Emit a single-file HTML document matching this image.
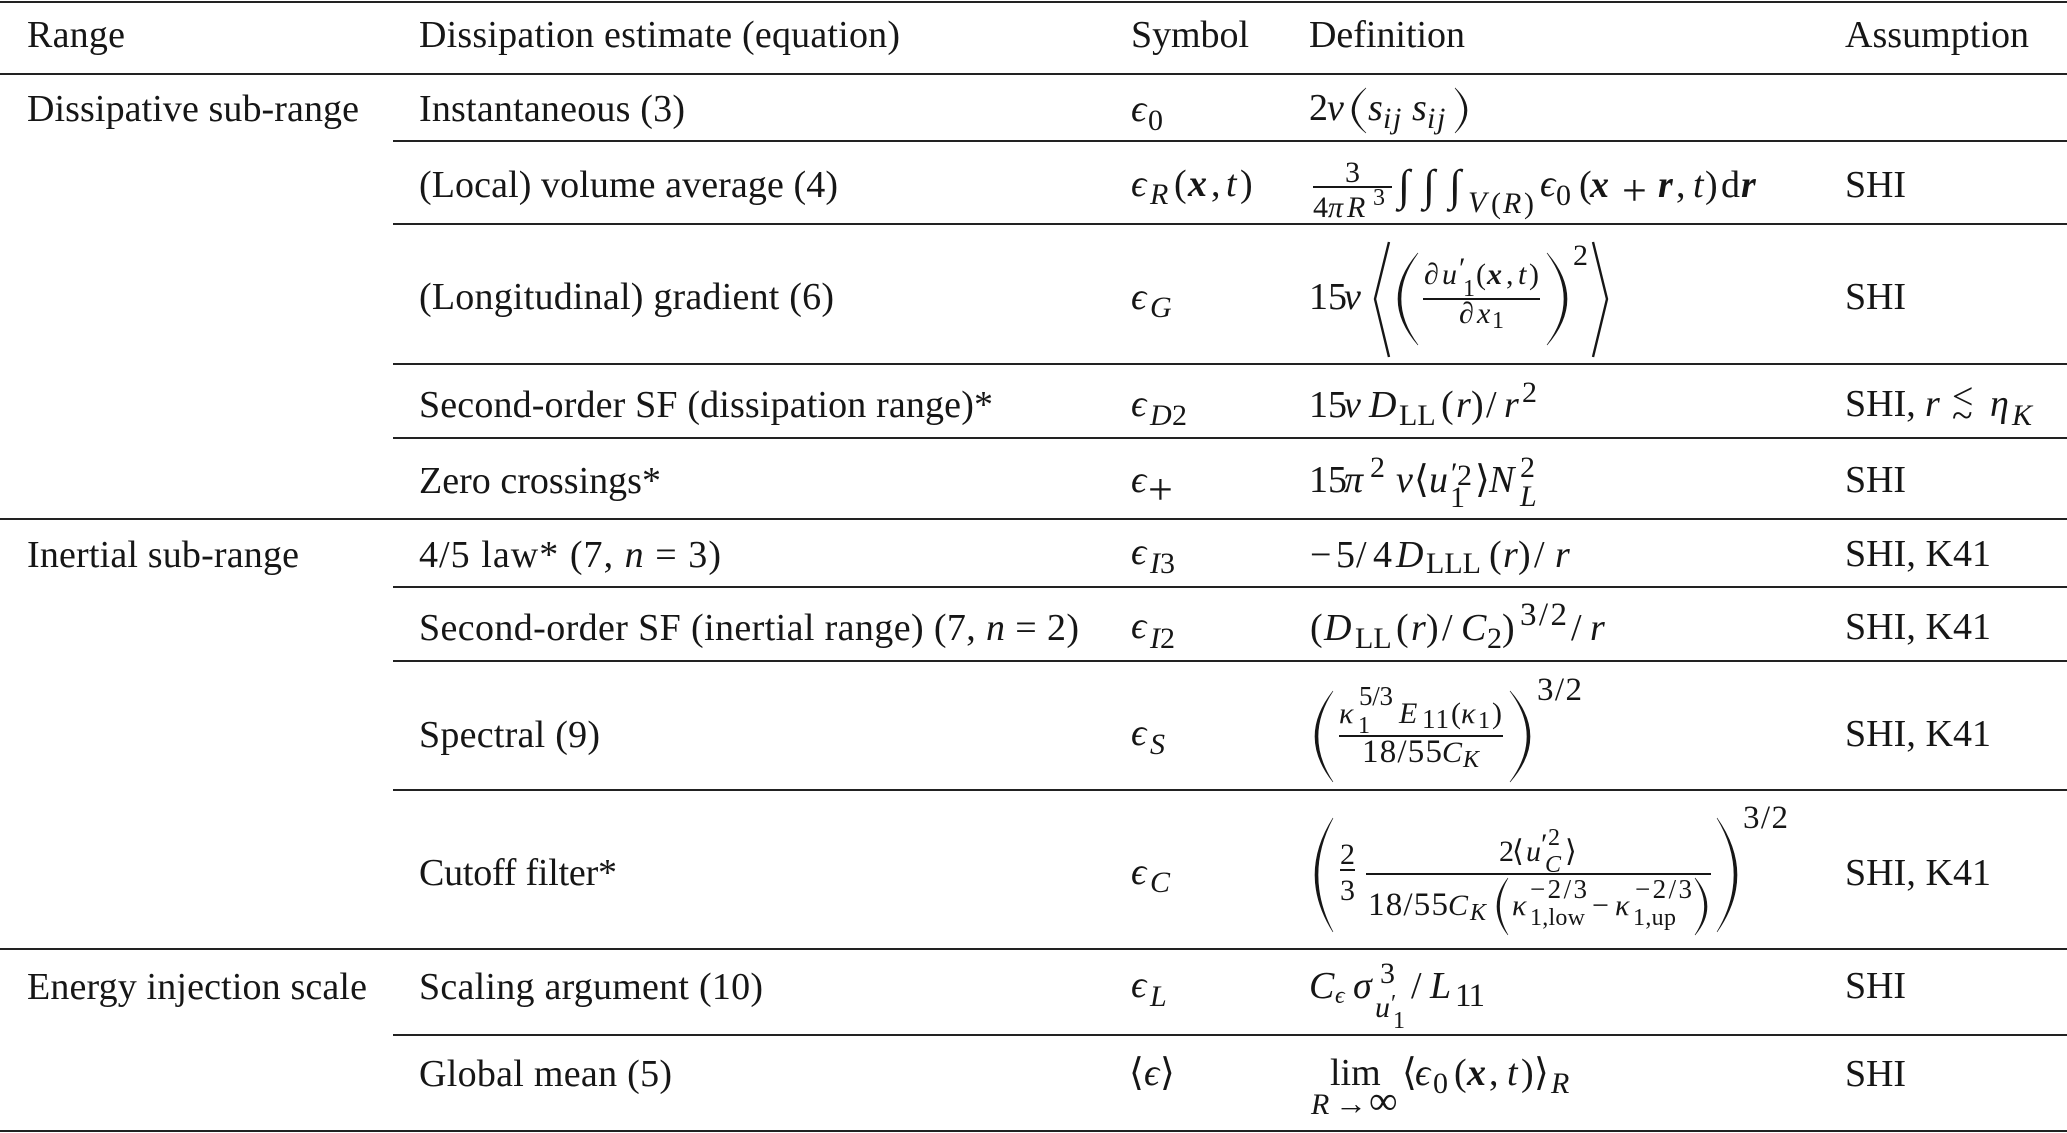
<!DOCTYPE html>
<html><head><meta charset="utf-8"><title>Dissipation estimates</title>
<style>
html,body{margin:0;padding:0;background:#fff;width:2067px;height:1133px;overflow:hidden}
svg{display:block}
text{font-family:"Liberation Serif","DejaVu Serif",serif;fill:#161616;white-space:pre}
.a{font-size:38px}
.b{font-size:38px;font-style:italic}
.g{font-size:38px;font-style:italic;font-weight:bold}
.c{font-size:30px}
.c2{font-size:33px}
.d{font-size:30px;font-style:italic}
.h{font-size:30px;font-style:italic;font-weight:bold}
.e{font-size:24px}
.e2{font-size:27px}
.f{font-size:24px;font-style:italic}
.i{font-size:44px}
line{stroke:#222;stroke-width:2}
.p{fill:#161616;stroke:#161616;stroke-width:.6}
.n{fill:none;stroke:#161616;stroke-width:2.4}
</style></head><body>
<svg width="2067" height="1133" viewBox="0 0 2067 1133" xmlns="http://www.w3.org/2000/svg">
<!-- rules -->
<line x1="0" x2="2067" y1="2" y2="2"/>
<line x1="0" x2="2067" y1="74" y2="74"/>
<line x1="393" x2="2067" y1="141" y2="141"/>
<line x1="393" x2="2067" y1="224" y2="224"/>
<line x1="393" x2="2067" y1="364" y2="364"/>
<line x1="393" x2="2067" y1="438" y2="438"/>
<line x1="0" x2="2067" y1="519" y2="519"/>
<line x1="393" x2="2067" y1="587" y2="587"/>
<line x1="393" x2="2067" y1="661" y2="661"/>
<line x1="393" x2="2067" y1="790" y2="790"/>
<line x1="0" x2="2067" y1="949" y2="949"/>
<line x1="393" x2="2067" y1="1035" y2="1035"/>
<line x1="0" x2="2067" y1="1131" y2="1131"/>

<!-- header -->
<text class="a" x="27" y="47" textLength="98">Range</text>
<text class="a" x="419" y="47" textLength="481">Dissipation estimate (equation)</text>
<text class="a" x="1131" y="47" textLength="118">Symbol</text>
<text class="a" x="1309" y="47" textLength="156">Definition</text>
<text class="a" x="1845" y="47" textLength="184">Assumption</text>

<!-- column 1 -->
<text class="a" x="27" y="121" textLength="332">Dissipative sub-range</text>
<text class="a" x="27" y="567" textLength="272">Inertial sub-range</text>
<text class="a" x="27" y="999" textLength="340">Energy injection scale</text>

<!-- column 2 -->
<text class="a" x="419" y="121" textLength="266">Instantaneous (3)</text>
<text class="a" x="419" y="197" textLength="419">(Local) volume average (4)</text>
<text class="a" x="419" y="309" textLength="415">(Longitudinal) gradient (6)</text>
<text class="a" x="419" y="417" textLength="574">Second-order SF (dissipation range)*</text>
<text class="a" x="419" y="493" textLength="242">Zero crossings*</text>
<text class="a" x="419" y="567" textLength="302">4/5 law* (7, <tspan font-style="italic">n</tspan> = 3)</text>
<text class="a" x="419" y="640" textLength="660">Second-order SF (inertial range) (7, <tspan font-style="italic">n</tspan> = 2)</text>
<text class="a" x="419" y="747" textLength="181">Spectral (9)</text>
<text class="a" x="419" y="885" textLength="198">Cutoff filter*</text>
<text class="a" x="419" y="999" textLength="344">Scaling argument (10)</text>
<text class="a" x="419" y="1086" textLength="253">Global mean (5)</text>

<!-- column 5 -->
<text class="a" x="1845" y="197" textLength="61">SHI</text>
<text class="a" x="1845" y="309" textLength="61">SHI</text>
<text class="a" x="1845" y="416">SHI,</text>
<text class="b" x="1925" y="416">r</text>
<text class="a" x="1952" y="409">&lt;</text>
<text class="a" x="1952" y="428">~</text>
<text class="b" x="1990" y="416">η</text>
<text class="d" x="2012" y="425">K</text>
<text class="a" x="1845" y="492" textLength="61">SHI</text>
<text class="a" x="1845" y="566" textLength="146">SHI, K41</text>
<text class="a" x="1845" y="639" textLength="146">SHI, K41</text>
<text class="a" x="1845" y="746" textLength="146">SHI, K41</text>
<text class="a" x="1845" y="885" textLength="146">SHI, K41</text>
<text class="a" x="1845" y="998" textLength="61">SHI</text>
<text class="a" x="1845" y="1086" textLength="61">SHI</text>

<!-- column 3 -->
<text class="b" x="1131" y="121">ϵ</text><text class="c" x="1148" y="130">0</text>
<text class="b" x="1131" y="196">ϵ</text><text class="d" x="1150" y="204">R</text>
<text class="a" x="1174" y="196">(</text><text class="g" x="1188" y="196">x</text><text class="a" x="1211" y="196">,</text><text class="b" x="1226" y="196">t</text><text class="a" x="1240" y="196">)</text>
<text class="b" x="1131" y="309">ϵ</text><text class="d" x="1150" y="317">G</text>
<text class="b" x="1131" y="416">ϵ</text><text class="d" x="1150" y="425">D</text><text class="c" x="1172" y="425">2</text>
<text class="b" x="1131" y="492">ϵ</text><text class="i" x="1148" y="504">+</text>
<text class="b" x="1131" y="564">ϵ</text><text class="d" x="1150" y="573">I</text><text class="c" x="1160" y="573">3</text>
<text class="b" x="1131" y="638">ϵ</text><text class="d" x="1150" y="648">I</text><text class="c" x="1160" y="648">2</text>
<text class="b" x="1131" y="745">ϵ</text><text class="d" x="1150" y="754">S</text>
<text class="b" x="1131" y="884">ϵ</text><text class="d" x="1150" y="892">C</text>
<text class="b" x="1131" y="997">ϵ</text><text class="d" x="1150" y="1006">L</text>
<text class="a" x="1129" y="1085">⟨</text><text class="b" x="1144" y="1085">ϵ</text><text class="a" x="1160" y="1085">⟩</text>

<!-- column 4 : row 1 -->
<text class="a" x="1309" y="120">2</text><text class="b" x="1327" y="120">ν</text>
<path class="p" d="M1366 88Q1338 110.500 1366 133Q1343 110.500 1366 88Z"/>
<text class="b" x="1368" y="120">s</text><text class="d" x="1383" y="128">i</text><text class="d" x="1393" y="128">j</text>
<text class="b" x="1412" y="120">s</text><text class="d" x="1427" y="128">i</text><text class="d" x="1437" y="128">j</text>
<path class="p" d="M1455 88Q1479 110.500 1455 133Q1474 110.500 1455 88Z"/>

<!-- row 2 -->
<text class="c" x="1345" y="182">3</text>
<rect x="1313" y="186" width="79" height="2" fill="#161616"/>
<text class="c" x="1313" y="217">4</text><text class="d" x="1328" y="217">π</text><text class="d" x="1347" y="217">R</text><text class="e" x="1373" y="205">3</text>
<text class="i" x="1398" y="200" font-style="italic">∫</text><text class="i" x="1423" y="200" font-style="italic">∫</text><text class="i" x="1449" y="200" font-style="italic">∫</text>
<text class="d" x="1468" y="212">V</text><text class="c" x="1491" y="213">(</text><text class="d" x="1503" y="213">R</text><text class="c" x="1524" y="213">)</text>
<text class="b" x="1540" y="196">ϵ</text><text class="c" x="1556" y="205">0</text>
<text class="a" x="1579" y="197">(</text><text class="g" x="1590" y="197">x</text><text class="i" x="1622" y="205">+</text><text class="g" x="1658" y="197">r</text><text class="a" x="1676" y="197">,</text><text class="b" x="1693" y="197">t</text><text class="a" x="1705" y="197">)</text>
<text class="a" x="1721" y="197">d</text><text class="g" x="1741" y="197">r</text>

<!-- row 3 -->
<text class="a" x="1309" y="309">15</text><text class="b" x="1344" y="309">ν</text>
<polyline class="n" points="1389,242 1375,299 1389,357"/>
<path class="p" d="M1418 253Q1378 299 1418 345Q1384 299 1418 253Z"/>
<text class="c" x="1424" y="284">∂</text><text class="d" x="1442" y="284">u</text><text class="c" x="1459" y="278">′</text><text class="e" x="1463" y="296">1</text>
<text class="c" x="1476" y="284">(</text><text class="h" x="1487" y="284">x</text><text class="c" x="1506" y="284">,</text><text class="d" x="1518" y="284">t</text><text class="c" x="1529" y="284">)</text>
<rect x="1423" y="298" width="117" height="2" fill="#161616"/>
<text class="c" x="1459" y="323">∂</text><text class="d" x="1477" y="323">x</text><text class="e" x="1492" y="328">1</text>
<path class="p" d="M1547 253Q1587 299 1547 345Q1581 299 1547 253Z"/>
<text class="c" x="1573" y="265">2</text>
<polyline class="n" points="1593,242 1607,299 1593,357"/>

<!-- row 4 -->
<text class="a" x="1309" y="417">15</text><text class="b" x="1344" y="417">ν</text><text class="b" x="1369" y="417">D</text><text class="c" x="1399" y="425">LL</text>
<text class="a" x="1441" y="417">(</text><text class="b" x="1456" y="417">r</text><text class="a" x="1471" y="417">)</text><text class="a" x="1486" y="417">/</text><text class="b" x="1504" y="417">r</text><text class="c" x="1522" y="402">2</text>

<!-- row 5 -->
<text class="a" x="1309" y="492">15</text><text class="b" x="1344" y="492">π</text><text class="c" x="1370" y="477">2</text><text class="b" x="1396" y="492">ν</text>
<text class="a" x="1414" y="492">⟨</text><text class="b" x="1429" y="492">u</text><text class="c" x="1451" y="483">′</text><text class="c" x="1457" y="485">2</text><text class="c" x="1450" y="507">1</text><text class="a" x="1475" y="492">⟩</text>
<text class="b" x="1489" y="492">N</text><text class="c" x="1520" y="477">2</text><text class="d" x="1520" y="506">L</text>

<!-- row 6 -->
<text class="a" x="1310" y="567" textLength="24">−</text><text class="a" x="1336" y="567">5</text><text class="a" x="1356" y="567">/</text><text class="a" x="1373" y="567">4</text><text class="b" x="1396" y="567">D</text><text class="c" x="1426" y="573">LLL</text>
<text class="a" x="1489" y="567">(</text><text class="b" x="1503" y="567">r</text><text class="a" x="1518" y="567">)</text><text class="a" x="1534" y="567">/</text><text class="b" x="1555" y="567">r</text>

<!-- row 7 -->
<text class="a" x="1310" y="640">(</text><text class="b" x="1324" y="640">D</text><text class="c" x="1355" y="648">LL</text>
<text class="a" x="1396" y="640">(</text><text class="b" x="1411" y="640">r</text><text class="a" x="1426" y="640">)</text><text class="a" x="1442" y="640">/</text><text class="b" x="1461" y="640">C</text><text class="c" x="1487" y="648">2</text><text class="a" x="1502" y="640">)</text>
<text class="c2" x="1520" y="625" textLength="47">3/2</text><text class="a" x="1571" y="640">/</text><text class="b" x="1590" y="640">r</text>

<!-- row 8 -->
<path class="p" d="M1333 691Q1297 736.500 1333 782Q1303 736.500 1333 691Z"/>
<text class="d" x="1339" y="723">κ</text><text class="e2" x="1359" y="705" textLength="34">5/3</text><text class="e" x="1358" y="733">1</text>
<text class="d" x="1399" y="723">E</text><text class="e2" x="1422" y="728" textLength="27">11</text>
<text class="c" x="1451" y="723">(</text><text class="d" x="1461" y="723">κ</text><text class="e" x="1478" y="728">1</text><text class="c" x="1492" y="723">)</text>
<rect x="1339" y="735" width="164" height="2" fill="#161616"/>
<text class="c2" x="1362" y="762" textLength="80">18/55</text><text class="d" x="1442" y="762">C</text><text class="f" x="1463" y="767">K</text>
<path class="p" d="M1510 691Q1550 736.500 1510 782Q1544 736.500 1510 691Z"/>
<text class="c2" x="1537" y="700" textLength="45">3/2</text>

<!-- row 9 -->
<path class="p" d="M1333 818Q1297 875 1333 932Q1303 875 1333 818Z"/>
<text class="c" x="1340" y="864">2</text><rect x="1340" y="869" width="15" height="2" fill="#161616"/><text class="c" x="1340" y="900">3</text>
<text class="c" x="1499" y="861">2</text><text class="c" x="1512" y="861">⟨</text><text class="d" x="1526" y="861">u</text><text class="c" x="1541" y="854">′</text><text class="e" x="1548" y="845">2</text><text class="f" x="1545" y="872">C</text><text class="c" x="1565" y="861">⟩</text>
<rect x="1366" y="873" width="345" height="2" fill="#161616"/>
<text class="c2" x="1368" y="915" textLength="80">18/55</text><text class="d" x="1448" y="915">C</text><text class="f" x="1470" y="920">K</text>
<path class="p" d="M1508 878Q1486 906.500 1508 935Q1491 906.500 1508 878Z"/>
<text class="d" x="1512" y="915">κ</text><text class="e2" x="1530" y="898" textLength="57">−2/3</text><text class="e" x="1530" y="925" textLength="55">1,low</text>
<text class="c" x="1592" y="915">−</text><text class="d" x="1615" y="915">κ</text><text class="e2" x="1635" y="898" textLength="57">−2/3</text><text class="e" x="1633" y="925" textLength="43">1,up</text>
<path class="p" d="M1695 878Q1719 906.500 1695 935Q1714 906.500 1695 878Z"/>
<path class="p" d="M1717 818Q1757 875 1717 932Q1751 875 1717 818Z"/>
<text class="c2" x="1743" y="828" textLength="45">3/2</text>

<!-- row 10 -->
<text class="b" x="1309" y="998">C</text><text class="f" x="1335" y="1003">ϵ</text><text class="b" x="1353" y="998">σ</text><text class="c" x="1380" y="983">3</text>
<text class="d" x="1375" y="1017">u</text><text class="e" x="1391" y="1011">′</text><text class="e" x="1393" y="1028">1</text>
<text class="a" x="1411" y="998">/</text><text class="b" x="1430" y="998">L</text><text class="c2" x="1455" y="1006" textLength="30">11</text>

<!-- row 11 -->
<text class="a" x="1330" y="1085">lim</text><text class="d" x="1311" y="1114">R</text><text class="c" x="1335" y="1114" textLength="32" style="font-size:32px">→</text><text class="c" x="1369" y="1114" style="font-size:40px">∞</text>
<text class="a" x="1402" y="1085">⟨</text><text class="b" x="1415" y="1085">ϵ</text><text class="c" x="1433" y="1093">0</text>
<text class="a" x="1454" y="1085">(</text><text class="g" x="1467" y="1085">x</text><text class="a" x="1489" y="1085">,</text><text class="b" x="1507" y="1085">t</text><text class="a" x="1521" y="1085">)</text><text class="a" x="1534" y="1085">⟩</text><text class="d" x="1551" y="1093">R</text>
</svg>
</body></html>
